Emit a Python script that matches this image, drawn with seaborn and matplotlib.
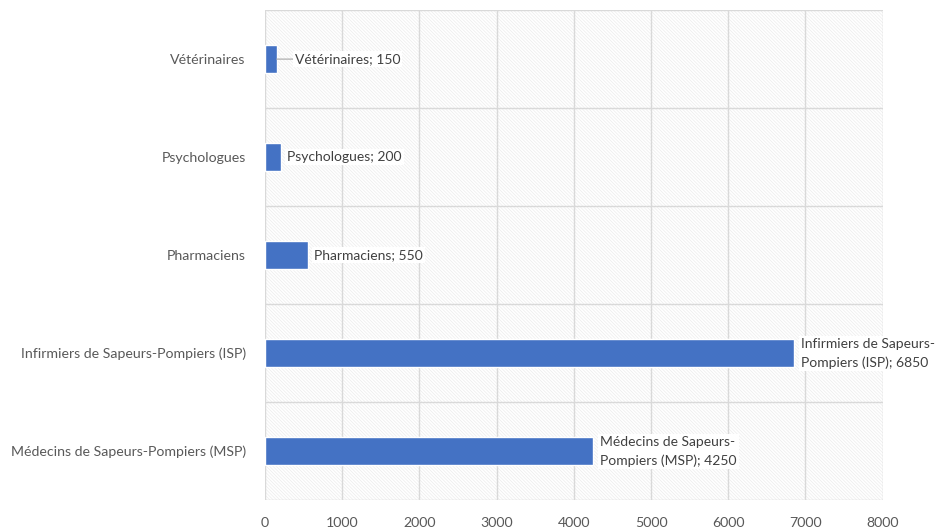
import matplotlib
matplotlib.use("Agg")
import matplotlib.pyplot as plt
import seaborn as sns
import pandas as pd

categories = [
    "Vétérinaires",
    "Psychologues",
    "Pharmaciens",
    "Infirmiers de Sapeurs-Pompiers (ISP)",
    "Médecins de Sapeurs-Pompiers (MSP)",
]
values = [150, 200, 550, 6850, 4250]
label_texts = [
    "Vétérinaires; 150",
    "Psychologues; 200",
    "Pharmaciens; 550",
    "Infirmiers de Sapeurs-\nPompiers (ISP); 6850",
    "Médecins de Sapeurs-\nPompiers (MSP); 4250",
]
x_ticks = [0, 1000, 2000, 3000, 4000, 5000, 6000, 7000, 8000]

sns.set_theme(style="white")
plt.rcParams["font.family"] = ["Lato", "DejaVu Sans"]
plt.rcParams["hatch.linewidth"] = 0.5

df = pd.DataFrame({"cat": categories, "val": values})

fig = plt.figure(figsize=(9.4, 5.31), dpi=100)
ax = fig.add_axes([0.282, 0.058, 0.657, 0.923])

# faint hatched plot area
ax.patch.set_facecolor("white")
ax.patch.set_edgecolor("#ececec")
ax.patch.set_hatch("\\\\\\\\\\\\\\\\\\\\")

sns.barplot(data=df, x="val", y="cat", order=categories, color="#4472C4",
            saturation=1, width=0.29, orient="h", ax=ax, zorder=3)

ax.set_xlim(0, 8000)
ax.set_ylim(len(categories) - 0.5, -0.5)
ax.set_xticks(x_ticks)
ax.set_xticklabels([str(t) for t in x_ticks])
for t in x_ticks:
    ax.axvline(t, color="#d9d9d9", lw=1, zorder=1)
for b in range(len(categories) + 1):
    ax.axhline(b - 0.5, color="#d9d9d9", lw=1, zorder=1)

for s in ax.spines.values():
    s.set_visible(False)
ax.tick_params(axis="both", length=0, colors="#595959", labelsize=10.2)
ax.tick_params(axis="y", pad=14)
ax.tick_params(axis="x", pad=12)
ax.set_xlabel("")
ax.set_ylabel("")

for i, (v, txt) in enumerate(zip(values, label_texts)):
    off = 13 if i == 0 else 5
    ax.annotate(
        txt, xy=(v, i), xytext=(off, 0), textcoords="offset points",
        va="center", ha="left", fontsize=10, color="#404040",
        linespacing=1.6, zorder=5,
        bbox=dict(boxstyle="square,pad=0.15", fc="white", ec="none"),
    )
    if i == 0:
        ax.annotate("", xy=(v, i), xytext=(off, 0), textcoords="offset points",
                    arrowprops=dict(arrowstyle="-", color="#a6a6a6", lw=0.8,
                                    shrinkA=0, shrinkB=0), zorder=4)

fig.savefig("out.png", dpi=100, facecolor="white")
